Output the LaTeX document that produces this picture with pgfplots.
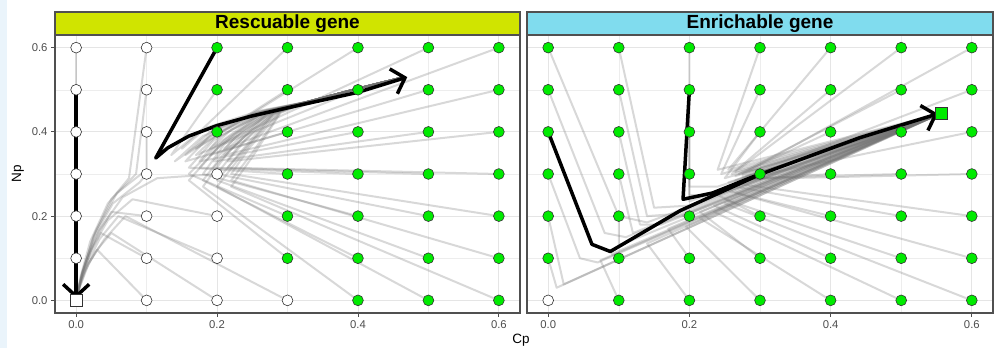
\documentclass[border=0pt]{standalone}
\usepackage{pgfplots}
\pgfplotsset{compat=1.18}
\usepackage{fontspec}
\setmainfont{Liberation Sans}
\usetikzlibrary{arrows.meta}
\definecolor{lime}{RGB}{0,235,0}
\definecolor{stripA}{RGB}{208,228,0}
\definecolor{stripB}{RGB}{128,220,238}
\definecolor{bord}{RGB}{80,80,80}
\definecolor{tickc}{RGB}{77,77,77}
\definecolor{bgblue}{RGB}{234,244,251}
\pgfplotsset{
 panel/.style={
  scale only axis, width=465pt, height=278pt,
  xmin=-0.03, xmax=0.63, ymin=-0.03, ymax=0.63,
  xtick={0,0.2,0.4,0.6}, xticklabels={0.0,0.2,0.4,0.6},
  ytick={0,0.2,0.4,0.6},
  minor xtick={0.1,0.3,0.5}, minor ytick={0.1,0.3,0.5},
  grid=both,
  major grid style={draw=black!10, line width=0.8pt},
  minor grid style={draw=black!7, line width=0.5pt},
  tick align=outside, major tick length=4pt, minor tick length=0pt,
  tick style={draw=tickc, line width=0.8pt},
  xtick pos=lower, ytick pos=left,
  ticklabel style={font=\fontsize{11.3}{13}\selectfont, text=tickc},
  axis line style={draw=bord, line width=1.1pt},
  anchor=south west,
 },
 gr/.style={draw=black!55, opacity=0.28, line width=2pt, line join=round, line cap=round, mark=none},
 bk/.style={draw=black, line width=3.5pt, line join=round, mark=none},
 arr/.style={-{Straight Barb[length=12pt,width=26pt]}},
 gpt/.style={only marks, mark=*, mark size=5.4pt, mark options={fill=lime, draw=black!80, line width=0.6pt}},
 wpt/.style={only marks, mark=*, mark size=5.4pt, mark options={fill=white, draw=black!80, line width=0.6pt}},
}
\begin{document}
\begin{tikzpicture}
\useasboundingbox (0,0) rectangle (997pt,348pt);
\fill[bgblue] (0,0) rectangle (7pt,348pt);
% ---------------- LEFT PANEL ----------------
\begin{axis}[panel, at={(55pt,35pt)}, yticklabels={0.0,0.2,0.4,0.6}]
% gray trajectories to upper attractor
\addplot[gr] coordinates {(0.2,0.4) (0.14,0.33) (0.18,0.39) (0.25,0.44) (0.33,0.472) (0.4,0.503) (0.465,0.53)};
\addplot[gr] coordinates {(0.2,0.5) (0.135,0.345) (0.175,0.40) (0.25,0.442) (0.33,0.472) (0.4,0.503) (0.465,0.53)};
\addplot[gr] coordinates {(0.3,0.1) (0.16,0.285) (0.2,0.36) (0.26,0.44) (0.33,0.472) (0.4,0.503) (0.465,0.53)};
\addplot[gr] coordinates {(0.3,0.2) (0.16,0.30) (0.2,0.37) (0.26,0.442) (0.33,0.472) (0.4,0.503) (0.465,0.53)};
\addplot[gr] coordinates {(0.3,0.3) (0.16,0.315) (0.195,0.38) (0.26,0.444) (0.33,0.472) (0.4,0.503) (0.465,0.53)};
\addplot[gr] coordinates {(0.3,0.4) (0.155,0.33) (0.19,0.39) (0.26,0.446) (0.33,0.472) (0.4,0.503) (0.465,0.53)};
\addplot[gr] coordinates {(0.3,0.5) (0.155,0.345) (0.19,0.40) (0.26,0.448) (0.33,0.472) (0.4,0.503) (0.465,0.53)};
\addplot[gr] coordinates {(0.3,0.6) (0.15,0.36) (0.185,0.41) (0.26,0.45) (0.33,0.472) (0.4,0.503) (0.465,0.53)};
\addplot[gr] coordinates {(0.4,0.0) (0.18,0.27) (0.215,0.35) (0.27,0.44) (0.33,0.472) (0.4,0.503) (0.465,0.53)};
\addplot[gr] coordinates {(0.4,0.1) (0.18,0.285) (0.215,0.36) (0.27,0.442) (0.33,0.472) (0.4,0.503) (0.465,0.53)};
\addplot[gr] coordinates {(0.4,0.2) (0.18,0.30) (0.21,0.37) (0.27,0.444) (0.33,0.472) (0.4,0.503) (0.465,0.53)};
\addplot[gr] coordinates {(0.4,0.3) (0.175,0.315) (0.21,0.38) (0.27,0.446) (0.33,0.472) (0.4,0.503) (0.465,0.53)};
\addplot[gr] coordinates {(0.4,0.4) (0.175,0.33) (0.205,0.39) (0.27,0.448) (0.33,0.472) (0.4,0.503) (0.465,0.53)};
\addplot[gr] coordinates {(0.4,0.5) (0.17,0.345) (0.205,0.40) (0.27,0.45) (0.33,0.472) (0.4,0.503) (0.465,0.53)};
\addplot[gr] coordinates {(0.4,0.6) (0.17,0.36) (0.2,0.41) (0.27,0.452) (0.33,0.472) (0.4,0.503) (0.465,0.53)};
\addplot[gr] coordinates {(0.5,0.0) (0.2,0.27) (0.235,0.345) (0.28,0.442) (0.33,0.472) (0.4,0.503) (0.465,0.53)};
\addplot[gr] coordinates {(0.5,0.1) (0.2,0.285) (0.235,0.355) (0.28,0.444) (0.33,0.472) (0.4,0.503) (0.465,0.53)};
\addplot[gr] coordinates {(0.5,0.2) (0.2,0.30) (0.23,0.365) (0.28,0.446) (0.33,0.472) (0.4,0.503) (0.465,0.53)};
\addplot[gr] coordinates {(0.5,0.3) (0.195,0.315) (0.23,0.375) (0.28,0.448) (0.33,0.472) (0.4,0.503) (0.465,0.53)};
\addplot[gr] coordinates {(0.5,0.4) (0.195,0.33) (0.225,0.385) (0.28,0.45) (0.33,0.472) (0.4,0.503) (0.465,0.53)};
\addplot[gr] coordinates {(0.5,0.5) (0.19,0.345) (0.225,0.395) (0.28,0.452) (0.33,0.472) (0.4,0.503) (0.465,0.53)};
\addplot[gr] coordinates {(0.5,0.6) (0.19,0.36) (0.22,0.405) (0.28,0.454) (0.33,0.472) (0.4,0.503) (0.465,0.53)};
\addplot[gr] coordinates {(0.6,0.0) (0.22,0.27) (0.25,0.34) (0.29,0.445) (0.33,0.472) (0.4,0.503) (0.465,0.53)};
\addplot[gr] coordinates {(0.6,0.1) (0.22,0.285) (0.25,0.35) (0.29,0.447) (0.33,0.472) (0.4,0.503) (0.465,0.53)};
\addplot[gr] coordinates {(0.6,0.2) (0.22,0.30) (0.245,0.36) (0.29,0.449) (0.33,0.472) (0.4,0.503) (0.465,0.53)};
\addplot[gr] coordinates {(0.6,0.3) (0.215,0.315) (0.245,0.37) (0.29,0.451) (0.33,0.472) (0.4,0.503) (0.465,0.53)};
\addplot[gr] coordinates {(0.6,0.4) (0.215,0.33) (0.24,0.38) (0.29,0.453) (0.33,0.472) (0.4,0.503) (0.465,0.53)};
\addplot[gr] coordinates {(0.6,0.5) (0.21,0.345) (0.24,0.39) (0.29,0.455) (0.33,0.472) (0.4,0.503) (0.465,0.53)};
\addplot[gr] coordinates {(0.6,0.6) (0.21,0.36) (0.235,0.40) (0.29,0.457) (0.33,0.472) (0.4,0.503) (0.465,0.53)};
% gray trajectories to origin
\addplot[gr] coordinates {(0,0.6) (0,0)};
\addplot[gr] coordinates {(0,0.4) (0,0)};
\addplot[gr] coordinates {(0.1,0.6) (0.075,0.29) (0.045,0.23) (0.02,0.14) (0.006,0.055) (0,0)};
\addplot[gr] coordinates {(0.1,0.5) (0.085,0.3) (0.05,0.24) (0.024,0.15) (0.008,0.06) (0,0)};
\addplot[gr] coordinates {(0.1,0.4) (0.1,0.31) (0.058,0.255) (0.028,0.165) (0.009,0.068) (0,0)};
\addplot[gr] coordinates {(0.1,0.3) (0.09,0.28) (0.052,0.23) (0.025,0.15) (0.008,0.062) (0,0)};
\addplot[gr] coordinates {(0.1,0.2) (0.05,0.21) (0.028,0.15) (0.013,0.09) (0.004,0.036) (0,0)};
\addplot[gr] coordinates {(0.1,0.1) (0.035,0.16) (0.019,0.11) (0.009,0.067) (0.003,0.027) (0,0)};
\addplot[gr] coordinates {(0.1,0.0) (0.03,0.12) (0.016,0.084) (0.007,0.05) (0,0)};
\addplot[gr] coordinates {(0.2,0.3) (0.115,0.29) (0.066,0.245) (0.032,0.165) (0.01,0.068) (0,0)};
\addplot[gr] coordinates {(0.2,0.2) (0.08,0.24) (0.045,0.19) (0.021,0.12) (0.007,0.048) (0,0)};
\addplot[gr] coordinates {(0.2,0.1) (0.06,0.2) (0.033,0.145) (0.016,0.088) (0.005,0.035) (0,0)};
\addplot[gr] coordinates {(0.2,0.0) (0.05,0.16) (0.027,0.115) (0.013,0.07) (0.004,0.028) (0,0)};
\addplot[gr] coordinates {(0.3,0.0) (0.07,0.2) (0.04,0.145) (0.018,0.088) (0.006,0.035) (0,0)};
% points
\addplot[wpt] coordinates {(0,0.1) (0,0.2) (0,0.3) (0,0.4) (0,0.5) (0,0.6)
 (0.1,0) (0.1,0.1) (0.1,0.2) (0.1,0.3) (0.1,0.4) (0.1,0.5) (0.1,0.6)
 (0.2,0) (0.2,0.1) (0.2,0.2) (0.2,0.3) (0.3,0)};
\addplot[gpt] coordinates {(0.2,0.4) (0.2,0.5) (0.2,0.6)
 (0.3,0.1) (0.3,0.2) (0.3,0.3) (0.3,0.4) (0.3,0.5) (0.3,0.6)
 (0.4,0) (0.4,0.1) (0.4,0.2) (0.4,0.3) (0.4,0.4) (0.4,0.5) (0.4,0.6)
 (0.5,0) (0.5,0.1) (0.5,0.2) (0.5,0.3) (0.5,0.4) (0.5,0.5) (0.5,0.6)
 (0.6,0) (0.6,0.1) (0.6,0.2) (0.6,0.3) (0.6,0.4) (0.6,0.5) (0.6,0.6)};
\addplot[only marks, mark=square*, mark size=6pt, mark options={fill=white, draw=black!80, line width=0.6pt}] coordinates {(0,0)};
% black trajectories
\addplot[bk, arr] coordinates {(0,0.5) (0,0.004)};
\addplot[bk, arr] coordinates {(0.2,0.6) (0.113,0.338) (0.13,0.362) (0.16,0.39) (0.2,0.415) (0.25,0.438) (0.3,0.457) (0.4,0.494) (0.47,0.53)};
\end{axis}
% ---------------- RIGHT PANEL ----------------
\begin{axis}[panel, at={(527pt,35pt)}, width=466pt, yticklabels={}, ytick style={draw=none}]
\addplot[gr] coordinates {(0,0.6) (0.1,0.2) (0.14,0.185) (0.555,0.443)};
\addplot[gr] coordinates {(0,0.5) (0.08,0.16) (0.11,0.15) (0.555,0.443)};
\addplot[gr] coordinates {(0,0.3) (0.045,0.1) (0.07,0.09) (0.555,0.443)};
\addplot[gr] coordinates {(0,0.2) (0.022,0.038) (0.555,0.443)};
\addplot[gr] coordinates {(0,0.1) (0.012,0.03) (0.555,0.443)};
\addplot[gr] coordinates {(0.1,0.6) (0.15,0.22) (0.2,0.225) (0.555,0.443)};
\addplot[gr] coordinates {(0.1,0.5) (0.14,0.2) (0.18,0.205) (0.555,0.443)};
\addplot[gr] coordinates {(0.1,0.4) (0.13,0.18) (0.16,0.18) (0.555,0.443)};
\addplot[gr] coordinates {(0.1,0.3) (0.12,0.16) (0.555,0.443)};
\addplot[gr] coordinates {(0.1,0.2) (0.1,0.13) (0.555,0.443)};
\addplot[gr] coordinates {(0.1,0.1) (0.09,0.11) (0.555,0.443)};
\addplot[gr] coordinates {(0.1,0.0) (0.074,0.095) (0.555,0.443)};
\addplot[gr] coordinates {(0.2,0.6) (0.2,0.27) (0.24,0.27) (0.555,0.443)};
\addplot[gr] coordinates {(0.2,0.4) (0.2,0.25) (0.23,0.25) (0.555,0.443)};
\addplot[gr] coordinates {(0.2,0.3) (0.2,0.235) (0.555,0.443)};
\addplot[gr] coordinates {(0.2,0.2) (0.19,0.2) (0.555,0.443)};
\addplot[gr] coordinates {(0.2,0.1) (0.17,0.17) (0.555,0.443)};
\addplot[gr] coordinates {(0.2,0.0) (0.14,0.135) (0.555,0.443)};
\addplot[gr] coordinates {(0.3,0.6) (0.24,0.31) (0.555,0.443)};
\addplot[gr] coordinates {(0.3,0.5) (0.245,0.3) (0.555,0.443)};
\addplot[gr] coordinates {(0.3,0.4) (0.25,0.29) (0.555,0.443)};
\addplot[gr] coordinates {(0.3,0.3) (0.255,0.28) (0.555,0.443)};
\addplot[gr] coordinates {(0.3,0.2) (0.24,0.25) (0.555,0.443)};
\addplot[gr] coordinates {(0.3,0.1) (0.215,0.21) (0.555,0.443)};
\addplot[gr] coordinates {(0.3,0.0) (0.195,0.175) (0.555,0.443)};
\addplot[gr] coordinates {(0.4,0.6) (0.255,0.31) (0.555,0.443)};
\addplot[gr] coordinates {(0.4,0.5) (0.26,0.3) (0.555,0.443)};
\addplot[gr] coordinates {(0.4,0.4) (0.265,0.295) (0.555,0.443)};
\addplot[gr] coordinates {(0.4,0.3) (0.265,0.285) (0.555,0.443)};
\addplot[gr] coordinates {(0.4,0.2) (0.255,0.26) (0.555,0.443)};
\addplot[gr] coordinates {(0.4,0.1) (0.235,0.225) (0.555,0.443)};
\addplot[gr] coordinates {(0.4,0.0) (0.215,0.195) (0.555,0.443)};
\addplot[gr] coordinates {(0.5,0.6) (0.265,0.305) (0.555,0.443)};
\addplot[gr] coordinates {(0.5,0.5) (0.27,0.3) (0.555,0.443)};
\addplot[gr] coordinates {(0.5,0.4) (0.275,0.295) (0.555,0.443)};
\addplot[gr] coordinates {(0.5,0.3) (0.275,0.29) (0.555,0.443)};
\addplot[gr] coordinates {(0.5,0.2) (0.265,0.27) (0.555,0.443)};
\addplot[gr] coordinates {(0.5,0.1) (0.25,0.24) (0.555,0.443)};
\addplot[gr] coordinates {(0.5,0.0) (0.235,0.21) (0.555,0.443)};
\addplot[gr] coordinates {(0.6,0.6) (0.275,0.3) (0.555,0.443)};
\addplot[gr] coordinates {(0.6,0.5) (0.28,0.295) (0.555,0.443)};
\addplot[gr] coordinates {(0.6,0.4) (0.285,0.292) (0.555,0.443)};
\addplot[gr] coordinates {(0.6,0.3) (0.28,0.288) (0.555,0.443)};
\addplot[gr] coordinates {(0.6,0.2) (0.275,0.275) (0.555,0.443)};
\addplot[gr] coordinates {(0.6,0.1) (0.265,0.255) (0.555,0.443)};
\addplot[gr] coordinates {(0.6,0.0) (0.25,0.23) (0.555,0.443)};
% points
\addplot[wpt] coordinates {(0,0)};
\addplot[gpt] coordinates {(0,0.1) (0,0.2) (0,0.3) (0,0.4) (0,0.5) (0,0.6)
 (0.1,0) (0.1,0.1) (0.1,0.2) (0.1,0.3) (0.1,0.4) (0.1,0.5) (0.1,0.6)
 (0.2,0) (0.2,0.1) (0.2,0.2) (0.2,0.3) (0.2,0.4) (0.2,0.5) (0.2,0.6)
 (0.3,0) (0.3,0.1) (0.3,0.2) (0.3,0.3) (0.3,0.4) (0.3,0.5) (0.3,0.6)
 (0.4,0) (0.4,0.1) (0.4,0.2) (0.4,0.3) (0.4,0.4) (0.4,0.5) (0.4,0.6)
 (0.5,0) (0.5,0.1) (0.5,0.2) (0.5,0.3) (0.5,0.4) (0.5,0.5) (0.5,0.6)
 (0.6,0) (0.6,0.1) (0.6,0.2) (0.6,0.3) (0.6,0.4) (0.6,0.5) (0.6,0.6)};
\addplot[only marks, mark=square*, mark size=6pt, mark options={fill=lime, draw=black!80, line width=0.6pt}] coordinates {(0.557,0.443)};
% black trajectories
\addplot[bk] coordinates {(0.2,0.5) (0.191,0.24) (0.233,0.255) (0.3,0.3)};
\addplot[bk, arr] coordinates {(0,0.4) (0.062,0.133) (0.088,0.116) (0.187,0.213) (0.3,0.299) (0.441,0.386) (0.552,0.443)};
\end{axis}
% strips
\draw[bord, line width=1.1pt, fill=stripA] (55pt,313pt) rectangle (520pt,336pt);
\node[font=\bfseries\fontsize{19}{21}\selectfont] at (287.5pt,324.5pt) {Rescuable gene};
\draw[bord, line width=1.1pt, fill=stripB] (527pt,313pt) rectangle (993pt,336pt);
\node[font=\bfseries\fontsize{19}{21}\selectfont] at (760pt,324.5pt) {Enrichable gene};
% axis titles
\node[rotate=90, font=\fontsize{13.5}{15}\selectfont] at (18pt,174pt) {Np};
\node[font=\fontsize{13.5}{15}\selectfont] at (521pt,8pt) {Cp};
\end{tikzpicture}
\end{document}
